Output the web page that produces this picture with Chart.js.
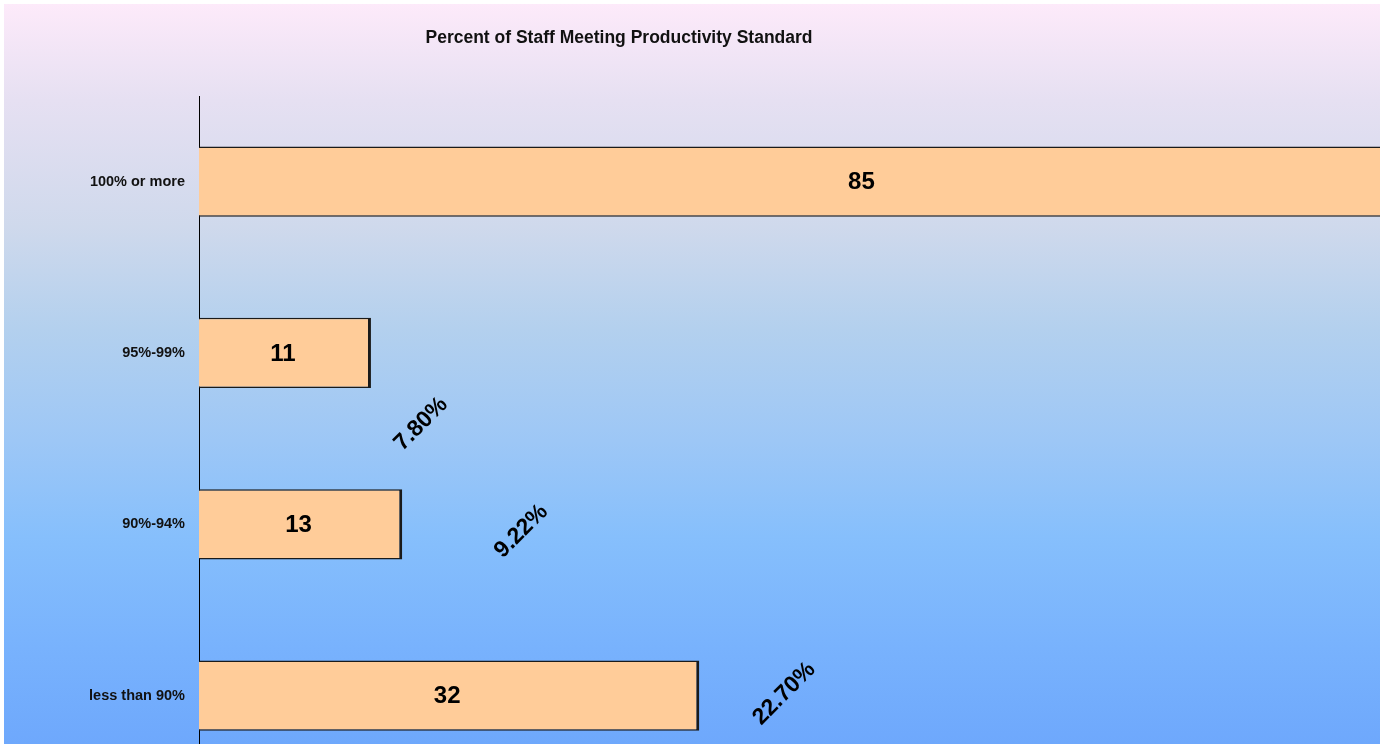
<!DOCTYPE html>
<html>
<head>
<meta charset="utf-8">
<script src="https://cdn.jsdelivr.net/npm/chart.js@4/dist/chart.umd.min.js"></script>
<style>
  html, body { margin: 0; padding: 0; background: #fff; overflow: hidden; }
  #frame {
    position: absolute; left: 4px; top: 4px; width: 1376px; height: 740px; overflow: hidden;
    background: linear-gradient(to bottom, #fdeafa 0%, #e6e0f2 13%, #cfd9ec 30%, #b3d0ee 44%,
      #9dc7f6 59%, #86bffc 72%, #78b2fd 87%, #6ea8fc 100%);
  }
  #chart { position: absolute; left: 0; top: 0; }
</style>
</head>
<body>
<div id="frame">
  <canvas id="chart" width="1610" height="800"></canvas>
</div>
<script>
// categories and values
const categories = ["100% or more", "95%-99%", "90%-94%", "less than 90%"]
const counts = [85, 11, 13, 32]
const percentLabels = [null, "7.80%", "9.22%", "22.70%"]
const titleText = "Percent of Staff Meeting Productivity Standard"

// where each rotated percent label sits relative to its bar end (px)
const pctOffsets = [[60, 0], [50, 71], [119, 7], [85, -2]]

Chart.defaults.font.family = "'Liberation Sans', Arial, sans-serif"

const labelPlugin = {
    id: "barLabels",
    afterDatasetsDraw(chart) {
        const ctx = chart.ctx
        const xs = chart.scales.x
        const meta = chart.getDatasetMeta(0)
        ctx.save()
        ctx.fillStyle = "#000"
        ctx.textAlign = "center"
        ctx.textBaseline = "middle"
        meta.data.forEach(function (bar, i) {
            ctx.font = "bold 24px 'Liberation Sans', Arial, sans-serif"
            ctx.fillText(String(counts[i]), xs.getPixelForValue(counts[i] / 2) - 2, bar.y + 1)
            if (percentLabels[i]) {
                ctx.save()
                ctx.font = "bold 23px 'Liberation Sans', Arial, sans-serif"
                ctx.translate(bar.x + pctOffsets[i][0], bar.y + pctOffsets[i][1])
                ctx.rotate(-Math.PI / 4)
                ctx.fillText(percentLabels[i], 0, 0)
                ctx.restore()
            }
        })
        // title
        ctx.font = "bold 17.5px 'Liberation Sans', Arial, sans-serif"
        ctx.textBaseline = "alphabetic"
        ctx.fillStyle = "#111"
        ctx.fillText(titleText, 615, 39)
        ctx.restore()
    }
}

new Chart(document.getElementById("chart"), {
    type: "bar",
    data: {
        labels: categories,
        datasets: [{
            data: counts,
            backgroundColor: "#ffcc99",
            borderColor: "#1a1a1a",
            borderWidth: { top: 1.5, bottom: 1.5, right: 3, left: 0 },
            borderSkipped: false,
            barPercentage: 0.41,
            categoryPercentage: 1
        }]
    },
    plugins: [labelPlugin],
    options: {
        indexAxis: "y",
        responsive: false,
        animation: false,
        layout: { padding: { top: 92, right: 8, bottom: 2, left: 0 } },
        plugins: {
            legend: { display: false },
            tooltip: { enabled: false },
            title: { display: false }
        },
        scales: {
            x: {
                display: false,
                min: 0,
                max: 90
            },
            y: {
                afterFit: function (axis) { axis.width = 195 },
                grid: { display: false, drawTicks: false },
                border: { display: true, color: "#000", width: 1 },
                ticks: {
                    padding: 14,
                    color: "#111",
                    font: { size: 14.5, weight: "bold" }
                }
            }
        }
    }
})
</script>
</body>
</html>
